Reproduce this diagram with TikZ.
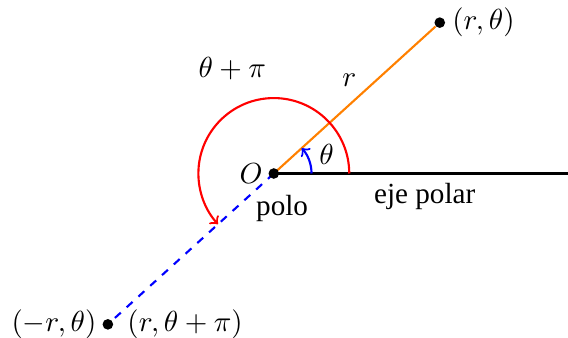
\documentclass[tikz,border=0pt]{standalone}
\usepackage{fontspec}
\setmainfont{Liberation Serif}
\usetikzlibrary{arrows}
\begin{document}
\begin{tikzpicture}[font=\fontsize{11}{13}\selectfont]
\useasboundingbox (-3.63,-2.17) rectangle (3.9,2.30);
\tikzset{dotmark/.style={circle,fill=black,inner sep=0pt,minimum size=4pt},
  lab/.style={inner sep=0pt}}
\coordinate (O) at (0,0);
\coordinate (E) at (3.9,0);
\node[dotmark] (P) at (2.2,2) {};
\node[dotmark] (Q) at (-2.2,-2) {};
\draw[thick] (O) -- (E);
\draw[thick,orange] (O) -- (P);
\draw[thick,blue,dashed] (O) -- (Q);
\draw[thick,red,->] (1,0) arc[start angle=0,end angle=222.27,radius=1];
\draw[thick,blue,->] (0.5,0) arc[start angle=0,end angle=42.27,radius=0.5];
\node[dotmark] (Od) at (O) {};
\node[lab] (Olab) at (-0.3,0) {$O$};
\node[lab] (polo) at (0.11,-0.46) {polo};
\node[lab] (eje) at (2.0,-0.31) {eje polar};
\node[lab] (rlab) at (1.0,1.24) {$r$};
\node[lab] (tlab) at (0.70,0.25) {$\theta$};
\node[lab] (tplab) at (-0.55,1.39) {$\theta+\pi$};
\node[lab,anchor=west] (Plab) at (2.36,2.0) {$(r,\theta)$};
\node[lab,anchor=east] (Qlab) at (-2.345,-2.0) {$(-r,\theta)$};
\node[lab,anchor=west] (Q2lab) at (-1.947,-2.0) {$(r,\theta+\pi)$};
\end{tikzpicture}
\end{document}
